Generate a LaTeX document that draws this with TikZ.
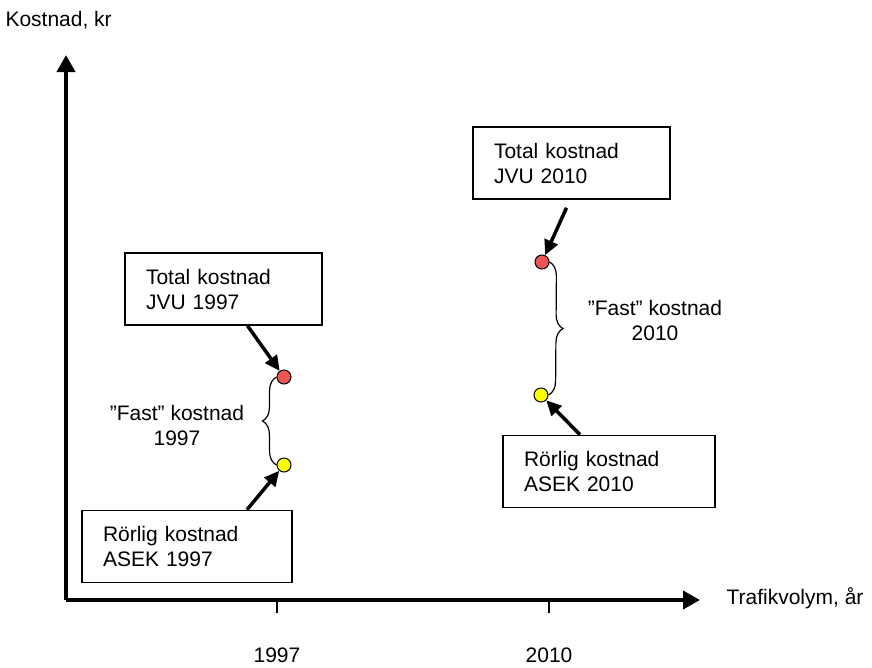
\documentclass[tikz,border=0pt]{standalone}
\usepackage{fontspec}
\setmainfont{Liberation Sans}
\usetikzlibrary{positioning,arrows.meta,decorations.pathreplacing,calc}
\definecolor{punktrod}{RGB}{240,85,85}
\definecolor{punktgul}{RGB}{255,255,0}

\begin{document}
\begin{tikzpicture}[x=1pt,y=-1pt,
  every node/.style={font=\fontsize{21}{25}\selectfont},
  boks/.style={draw,line width=1.6pt,align=left,minimum height=72pt,inner xsep=21pt},
  punkt/.style={circle,draw,line width=1pt,minimum size=14pt,inner sep=0pt},
  pil/.style={line width=3.5pt,-{Triangle[length=15pt,width=14pt]}},
  akse/.style={line width=4pt,-{Triangle[length=17pt,width=18pt]}},
  klammer/.style={line width=1.2pt,decorate,decoration={brace,amplitude=14pt}}]
  \useasboundingbox (0,0) rectangle (872,667);
  % axes
  \coordinate (O) at (66,600);
  \coordinate (ytop) at (66,55);
  \coordinate (xend) at (700,600);
  \draw[akse] (O) -- (ytop);
  \draw[akse] (O) -- (xend);
  \node[anchor=west] (ylab) at (2,20) {Kostnad, kr};
  \node[anchor=west] (xlab) at (723,598) {Trafikvolym, år};
  \foreach \x/\aar in {277/1997,549/2010} {
    \draw[line width=1.5pt] (\x,600) -- (\x,613);
    \node (lab\aar) at (\x,655) {\aar};
  }
  % 1997
  \node[punkt,fill=punktrod] (r97) at (284,377) {};
  \node[punkt,fill=punktgul] (g97) at (284,465) {};
  \node[boks,text width=155pt] (tot97) at (223.5,289) {Total kostnad\\JVU 1997};
  \node[boks,text width=168pt] (rorl97) at (187,546.5) {Rörlig kostnad\\ASEK 1997};
  \node[align=center] (fast97) at (177,425) {”Fast” kostnad\\1997};
  \draw[klammer] (g97.west) -- (r97.west);
  \draw[pil] ($(tot97.south)+(24,0)$) -- (r97);
  \draw[pil] ($(rorl97.north)+(60,0)$) -- (g97);
  % 2010
  \node[punkt,fill=punktrod] (r10) at (542,262) {};
  \node[punkt,fill=punktgul] (g10) at (541,395) {};
  \node[boks,text width=155pt] (tot10) at (571.5,163) {Total kostnad\\JVU 2010};
  \node[boks,text width=170pt] (rorl10) at (609,471.5) {Rörlig kostnad\\ASEK 2010};
  \node[align=center] (fast10) at (655,320) {”Fast” kostnad\\2010};
  \draw[klammer] (r10.east) -- (g10.east);
  \draw[pil] ($(tot10.south)+(-5,8)$) -- (r10);
  \draw[pil] ($(rorl10.north)+(-29,0)$) -- (g10);
\end{tikzpicture}
\end{document}
